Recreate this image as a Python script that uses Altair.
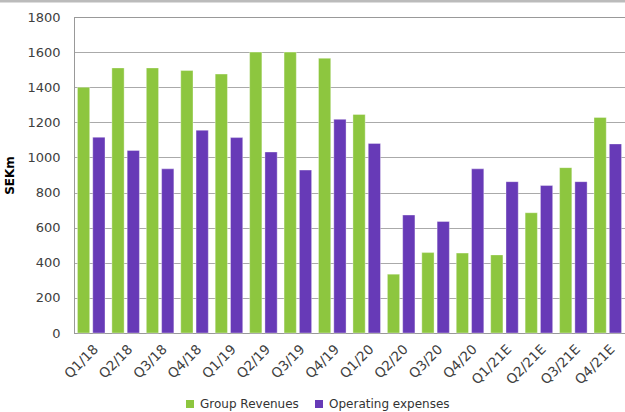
import altair as alt
import pandas as pd

quarters = ["Q1/18", "Q2/18", "Q3/18", "Q4/18", "Q1/19", "Q2/19", "Q3/19", "Q4/19",
            "Q1/20", "Q2/20", "Q3/20", "Q4/20", "Q1/21E", "Q2/21E", "Q3/21E", "Q4/21E"]
revenues = [1400, 1510, 1510, 1495, 1475, 1600, 1600, 1565,
            1245, 335, 458, 455, 445, 685, 942, 1228]
opex = [1115, 1040, 935, 1155, 1113, 1031, 928, 1217,
        1080, 672, 635, 935, 862, 840, 862, 1077]
series = ["Group Revenues", "Operating expenses"]
colors = ["#8DC63F", "#673AB7"]

rows = []
for q, r, o in zip(quarters, revenues, opex):
    rows.append({"Quarter": q, "Series": series[0], "Value": r})
    rows.append({"Quarter": q, "Series": series[1], "Value": o})
df = pd.DataFrame(rows)

FONT = "DejaVu Sans"

bars = alt.Chart(df).mark_bar(stroke="#ffffff", strokeOpacity=0.45, strokeWidth=0.8).encode(
    x=alt.X("Quarter:N", sort=quarters,
            scale=alt.Scale(paddingInner=0.2, paddingOuter=0.1),
            axis=alt.Axis(title=None, labelAngle=-45, labelAlign="right", labelBaseline="top",
                          labelFontSize=13.5, labelColor="#404040", labelFont=FONT,
                          ticks=False, domainColor="#999999", labelPadding=9)),
    xOffset=alt.XOffset("Series:N", sort=series,
                        scale=alt.Scale(paddingInner=0.2, paddingOuter=0)),
    y=alt.Y("Value:Q", scale=alt.Scale(domain=[0, 1800], nice=False),
            axis=alt.Axis(title="SEKm", titleFont=FONT, titleFontSize=12, titleFontWeight="bold",
                          titleColor="#000000", titlePadding=10, format="d",
                          values=list(range(0, 1801, 200)),
                          labelFontSize=13, labelColor="#404040", labelFont=FONT, labelPadding=14,
                          ticks=False, domainColor="#999999",
                          gridColor="#555555", gridDash=[1, 1], gridWidth=1)),
    color=alt.Color("Series:N", sort=series,
                    scale=alt.Scale(domain=series, range=colors),
                    legend=alt.Legend(title=None, orient="none", direction="horizontal",
                                      legendX=110, legendY=381,
                                      symbolType="square", symbolSize=64, symbolStrokeWidth=0,
                                      labelFont=FONT, labelFontSize=12, labelColor="#333333",
                                      columnPadding=14)),
)

topline = alt.Chart(pd.DataFrame({"a": [0]})).mark_rule(color="#bbbbbb", strokeWidth=3).encode(
    x=alt.value(-74), x2=alt.value(551), y=alt.value(-16)
)

chart = alt.layer(bars, topline).properties(
    width=551, height=316,
    autosize=alt.AutoSizeParams(type="none"),
    padding={"left": 74, "top": 17, "right": 0, "bottom": 79},
).configure_view(stroke=None).configure(background="#ffffff")

chart.save("out.html", embed_options={"renderer": "svg", "actions": False})
